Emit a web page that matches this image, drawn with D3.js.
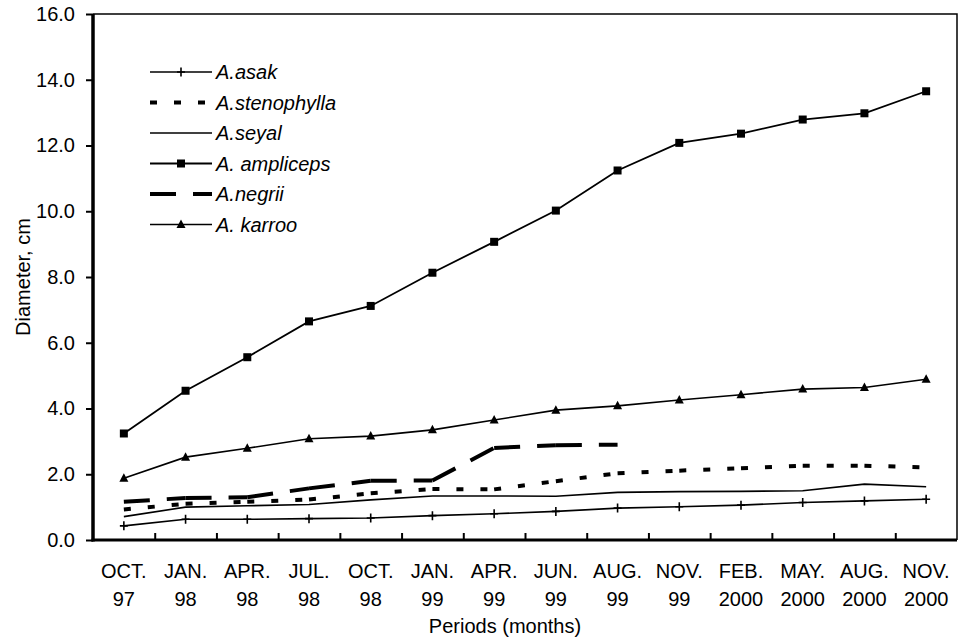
<!DOCTYPE html>
<html>
<head>
<meta charset="utf-8">
<script src="https://cdn.jsdelivr.net/npm/d3@7/dist/d3.min.js"></script>
<style>
  html, body { margin: 0; padding: 0; background: #fff; }
  svg text { font-family: "Liberation Sans", Arial, sans-serif; fill: #000; }
</style>
</head>
<body>
<svg id="chart" width="962" height="643"></svg>
<script>
// Sampling periods (two-line tick labels)
const periodMonths = ["OCT.", "JAN.", "APR.", "JUL.", "OCT.", "JAN.", "APR.", "JUN.", "AUG.", "NOV.", "FEB.", "MAY.", "AUG.", "NOV."];
const periodYears  = ["97", "98", "98", "98", "98", "99", "99", "99", "99", "99", "2000", "2000", "2000", "2000"];

// Stem diameter (cm) per species
const asak        = [0.43, 0.63, 0.63, 0.65, 0.67, 0.74, 0.80, 0.87, 0.97, 1.01, 1.06, 1.14, 1.19, 1.24];
const stenophylla = [0.93, 1.10, 1.16, 1.23, 1.42, 1.55, 1.54, 1.79, 2.03, 2.11, 2.18, 2.26, 2.26, 2.21];
const seyal       = [0.71, 1.00, 1.04, 1.08, 1.22, 1.34, 1.34, 1.33, 1.45, 1.47, 1.48, 1.50, 1.70, 1.62];
const ampliceps   = [3.24, 4.54, 5.56, 6.65, 7.12, 8.13, 9.07, 10.02, 11.24, 12.08, 12.36, 12.79, 12.98, 13.65];
const negrii      = [1.16, 1.28, 1.30, 1.57, 1.80, 1.81, 2.80, 2.88, 2.90];
const karroo      = [1.88, 2.52, 2.79, 3.08, 3.16, 3.35, 3.65, 3.95, 4.08, 4.26, 4.42, 4.59, 4.64, 4.89];

const yTicks = [0, 2, 4, 6, 8, 10, 12, 14, 16];

const series = [
  { name: "A.asak",        values: asak,        marker: "plus",     dash: null,    width: 1.6 },
  { name: "A.stenophylla", values: stenophylla, marker: null,       dash: "7,17",  width: 4 },
  { name: "A.seyal",       values: seyal,       marker: null,       dash: null,    width: 1.6 },
  { name: "A. ampliceps",  values: ampliceps,   marker: "square",   dash: null,    width: 1.8 },
  { name: "A.negrii",      values: negrii,      marker: null,       dash: "26,17", width: 4 },
  { name: "A. karroo",     values: karroo,      marker: "triangle", dash: null,    width: 1.6 }
];

const plotL = 93, plotR = 957, plotT = 14, plotB = 540;
const svg = d3.select("#chart");

const x = d3.scaleBand().domain(d3.range(periodMonths.length)).range([plotL, plotR]).padding(0);
const xc = i => x(i) + x.bandwidth() / 2;
const xEdge = d3.scaleLinear().domain([0, periodMonths.length]).range([plotL, plotR]);
const y = d3.scaleLinear().domain([0, 16]).range([plotB, plotT]);

// Plot frame (top and right)
svg.append("path")
  .attr("d", `M${plotL},${plotT}H${plotR}V${plotB}`)
  .attr("fill", "none").attr("stroke", "#000").attr("stroke-width", 1.5);

// Y axis
const yAxis = svg.append("g").attr("transform", `translate(${plotL},0)`)
  .call(d3.axisLeft(y).tickValues(yTicks).tickFormat(d3.format(".1f")).tickSize(7).tickPadding(11));
yAxis.select(".domain").attr("stroke-width", 3.5).attr("d", `M0,${plotT}V${plotB + 1.5}`);
yAxis.selectAll(".tick line").attr("stroke-width", 2);
yAxis.selectAll(".tick text").attr("font-size", 20).attr("font-family", "Liberation Sans, Arial, sans-serif");

// X axis: ticks between categories, pointing inward
const xAxis = svg.append("g").attr("transform", `translate(0,${plotB})`)
  .call(d3.axisBottom(xEdge).tickValues(d3.range(1, periodMonths.length)).tickSize(-7).tickFormat(""));
xAxis.select(".domain").attr("stroke-width", 3).attr("d", `M${plotL - 1.5},0H${plotR}`);
xAxis.selectAll(".tick line").attr("stroke-width", 2);

// Two-line category labels
const lbl = svg.append("g").attr("font-size", 20).attr("text-anchor", "middle");
lbl.selectAll("text.m").data(periodMonths).join("text")
  .attr("class", "m").attr("x", (d, i) => xc(i)).attr("y", 578).text(d => d);
lbl.selectAll("text.yr").data(periodYears).join("text")
  .attr("class", "yr").attr("x", (d, i) => xc(i)).attr("y", 606).text(d => d);

// Axis titles
svg.append("text").attr("x", (plotL + plotR) / 2 - 20).attr("y", 633)
  .attr("font-size", 20).attr("text-anchor", "middle").text("Periods (months)");
svg.append("text").attr("transform", `translate(29.5,${(plotT + plotB) / 2}) rotate(-90)`)
  .attr("font-size", 20).attr("text-anchor", "middle").text("Diameter, cm");

// Marker shapes
function drawMarker(g, type, cx, cy) {
  if (type === "square") {
    g.append("rect").attr("x", cx - 4).attr("y", cy - 4).attr("width", 8).attr("height", 8).attr("fill", "#000");
  } else if (type === "triangle") {
    g.append("path").attr("d", `M${cx},${cy - 5}L${cx + 4.5},${cy + 3.5}L${cx - 4.5},${cy + 3.5}Z`).attr("fill", "#000");
  } else if (type === "plus") {
    g.append("path").attr("d", `M${cx - 4},${cy}H${cx + 4}M${cx},${cy - 4.5}V${cy + 4.5}`)
      .attr("stroke", "#000").attr("stroke-width", 1.6).attr("fill", "none");
  }
}

const line = d3.line().x(d => xc(d[0])).y(d => y(d[1]));
const plot = svg.append("g");

series.forEach(s => {
  const pts = s.values.map((v, i) => [i, v]);
  const g = plot.append("g");
  if (s.dash) {
    // dash pattern restarts on every segment
    for (let i = 0; i < pts.length - 1; i++) {
      g.append("path").attr("d", line([pts[i], pts[i + 1]]))
        .attr("fill", "none").attr("stroke", "#000").attr("stroke-width", s.width)
        .attr("stroke-dasharray", s.dash);
    }
  } else {
    g.append("path").attr("d", line(pts))
      .attr("fill", "none").attr("stroke", "#000").attr("stroke-width", s.width);
  }
  if (s.marker) pts.forEach(p => drawMarker(g, s.marker, xc(p[0]), y(p[1])));
});

// Legend
const legend = svg.append("g");
const legX0 = 150, legX1 = 212, legY0 = 72, legDy = 30.5;
series.forEach((s, k) => {
  const ly = legY0 + k * legDy;
  const g = legend.append("g");
  g.append("path").attr("d", `M${legX0},${ly}H${legX1}`)
    .attr("stroke", "#000").attr("stroke-width", s.width).attr("fill", "none")
    .attr("stroke-dasharray", s.dash);
  if (s.marker) drawMarker(g, s.marker, (legX0 + legX1) / 2, ly);
  g.append("text").attr("x", 216).attr("y", ly).attr("dy", "0.35em")
    .attr("font-size", 20).attr("font-style", "italic").text(s.name);
});
</script>
</body>
</html>
